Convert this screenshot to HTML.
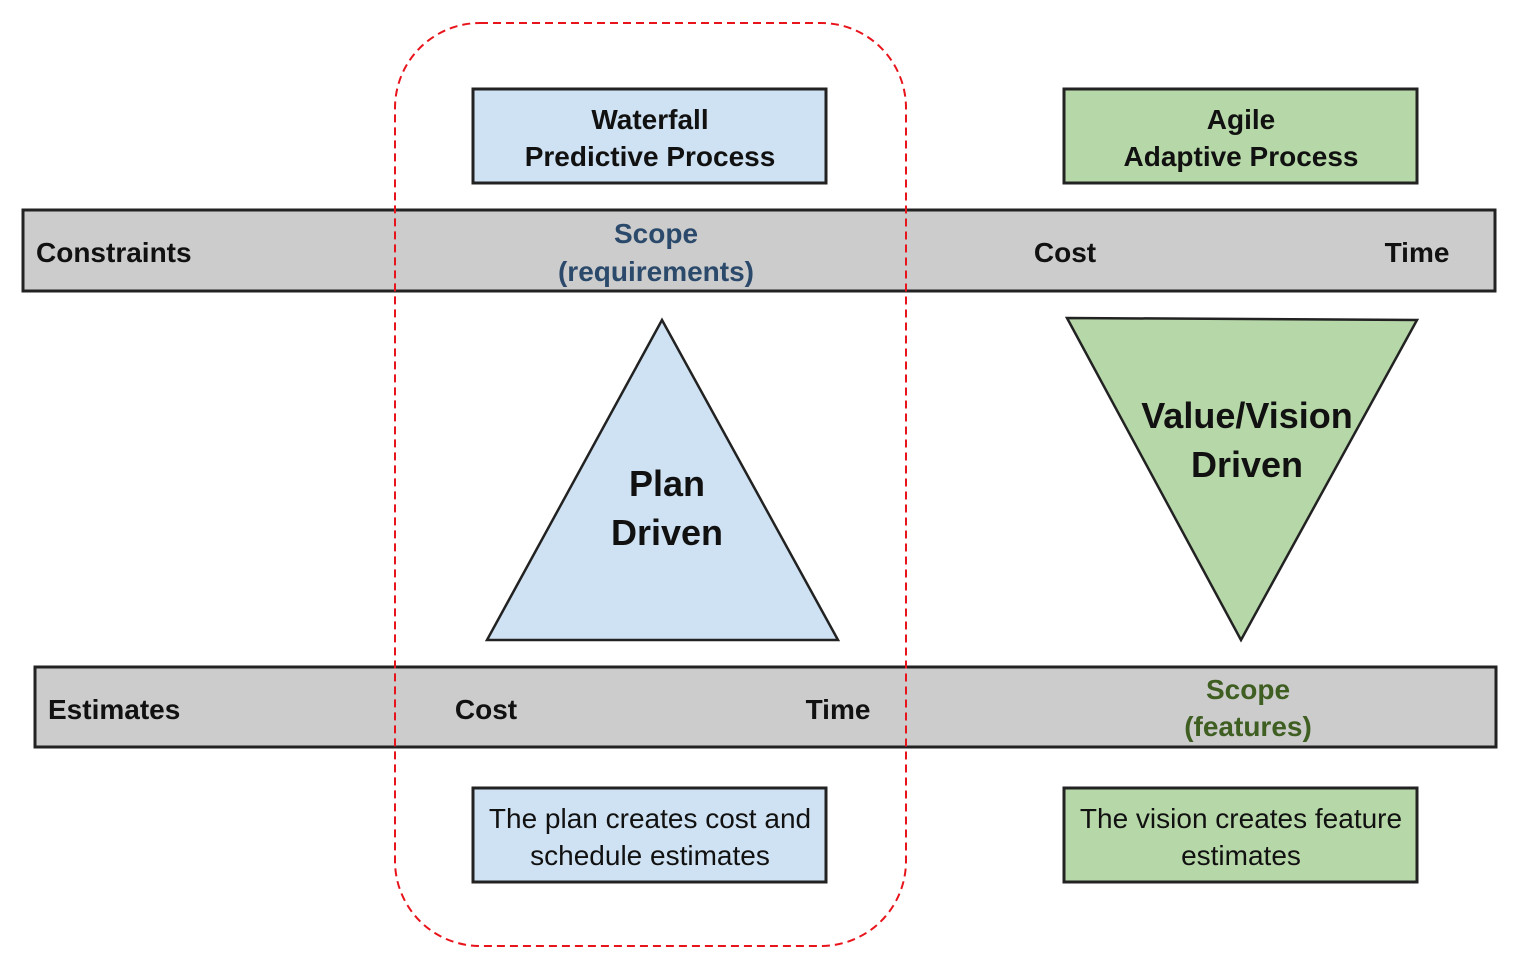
<!DOCTYPE html>
<html><head><meta charset="utf-8"><style>html,body{margin:0;padding:0;background:#fff}svg{display:block}</style></head><body>
<svg width="1516" height="966" viewBox="0 0 1516 966" xmlns="http://www.w3.org/2000/svg" font-family="Liberation Sans, Arial, sans-serif">
<rect x="473" y="89" width="353" height="94" fill="#cfe2f3" stroke="#222" stroke-width="3"/>
<rect x="1064" y="89" width="353" height="94" fill="#b6d7a8" stroke="#222" stroke-width="3"/>
<rect x="23" y="210" width="1472" height="81" fill="#cccccc" stroke="#222" stroke-width="3"/>
<rect x="35" y="667" width="1461" height="80" fill="#cccccc" stroke="#222" stroke-width="3"/>
<rect x="473" y="788" width="353" height="94" fill="#cfe2f3" stroke="#222" stroke-width="3"/>
<rect x="1064" y="788" width="353" height="94" fill="#b6d7a8" stroke="#222" stroke-width="3"/>
<polygon points="662,320 838,640 487,640" fill="#cfe2f3" stroke="#222" stroke-width="2.5"/>
<polygon points="1067,318 1417,320 1241,640" fill="#b6d7a8" stroke="#222" stroke-width="2.5"/>
<g font-weight="bold" font-size="28" fill="#111" text-anchor="middle">
<text x="650" y="129">Waterfall</text>
<text x="650" y="166">Predictive Process</text>
<text x="1241" y="129">Agile</text>
<text x="1241" y="166">Adaptive Process</text>
<text x="656" y="243" fill="#2b4a6b">Scope</text>
<text x="656" y="281" fill="#2b4a6b">(requirements)</text>
<text x="1065" y="262">Cost</text>
<text x="1417" y="262">Time</text>
<text x="486" y="719">Cost</text>
<text x="838" y="719">Time</text>
<text x="1248" y="699" fill="#3f5e22">Scope</text>
<text x="1248" y="736" fill="#3f5e22">(features)</text>
<text x="36" y="262" text-anchor="start">Constraints</text>
<text x="48" y="719" text-anchor="start">Estimates</text>
<g font-size="36">
<text x="667" y="496">Plan</text>
<text x="667" y="545">Driven</text>
<text x="1247" y="428">Value/Vision</text>
<text x="1247" y="477">Driven</text>
</g>
</g>
<g font-size="28" fill="#111" text-anchor="middle">
<text x="650" y="828">The plan creates cost and</text>
<text x="650" y="865">schedule estimates</text>
<text x="1241" y="828">The vision creates feature</text>
<text x="1241" y="865">estimates</text>
</g>
<rect x="395" y="23" width="511" height="923" rx="85" ry="85" fill="none" stroke="#e8141c" stroke-width="2" stroke-dasharray="8,5"/>
</svg>
</body></html>
